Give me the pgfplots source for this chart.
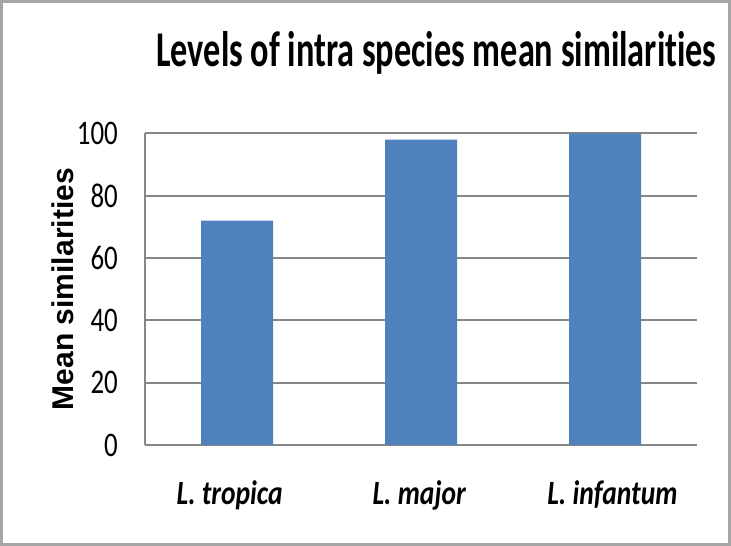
\documentclass[border=0pt]{standalone}
\usepackage{pgfplots}
\pgfplotsset{compat=1.18}
\usepackage{fontspec}
\setmainfont[Ligatures=NoCommon]{Carlito}
\newfontfamily\titlefont[FakeStretch=0.685,Ligatures=NoCommon]{Carlito}
\newfontfamily\tickfont[FakeStretch=0.78,Ligatures=NoCommon]{Carlito}
\newfontfamily\catfont[FakeStretch=0.81,Ligatures=NoCommon]{Carlito}
\newfontfamily\labfont{Liberation Sans}
\definecolor{barblue}{HTML}{4F81BD}
\definecolor{gridgray}{HTML}{868686}
\begin{document}
\begin{tikzpicture}[x=1bp,y=1bp]
\useasboundingbox (0,0) rectangle (731,546);
\draw[gray!70, line width=2.5bp] (1.5,1.5) rectangle (729.5,544.5);
\node[anchor=base, inner sep=0pt] at (436.5,479) {\titlefont\bfseries\fontsize{50bp}{54bp}\selectfont Levels of intra species mean similarities};
\begin{axis}[
  at={(145bp,101bp)}, anchor=south west,
  scale only axis, width=552bp, height=311.7bp,
  xmin=-0.5, xmax=2.5, ymin=0, ymax=100,
  axis x line*=bottom, axis y line*=left,
  axis line style={gridgray, line width=1.8bp, -},
  ymajorgrids, grid style={gridgray, line width=1.8bp},
  major tick length=0pt,
  ytick={0,20,40,60,80,100},
  xtick={-0.04,0.99,2.04},
  xticklabels={{L. tropica},{L. major},{L. infantum}},
  /pgf/number format/assume math mode=true,
  yticklabel style={font=\tickfont\fontsize{34.5bp}{38bp}\selectfont, anchor=east, inner sep=0pt, xshift=-27bp},
  xticklabel style={font=\catfont\bfseries\itshape\fontsize{34bp}{38bp}\selectfont, anchor=base, inner sep=0pt, yshift=-60bp},
  ylabel={Mean similarities},
  ylabel style={font=\labfont\bfseries\fontsize{30bp}{33bp}\selectfont, at={(axis description cs:-0.1486,0.5)}, anchor=center},
  clip=false,
]
\addplot[ybar, bar width=72bp, fill=barblue, draw=none] coordinates {(0,72) (1,98) (2,100)};
\end{axis}
\end{tikzpicture}
\end{document}
